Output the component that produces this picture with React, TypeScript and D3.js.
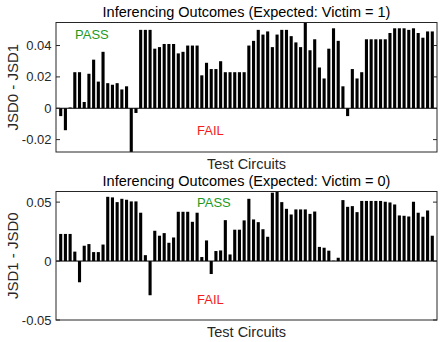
import React from 'react';
import * as d3 from 'd3';

// bar heights, one per test circuit
const victim1 = [
  -0.005, -0.014, 0.0005, 0.023, 0.023, 0.004, 0.022, 0.031, 0.017, 0.036,
  0.016, 0.015, 0.016, 0.012, 0.014, -0.03, -0.003, 0.050, 0.050, 0.050,
  0.038, 0.039, 0.041, 0.041, 0.041, 0.035, 0.036, 0.040, 0.040, 0.040,
  0.021, 0.029, 0.025, 0.025, 0.030, 0.023, 0.023, 0.023, 0.023, 0.023,
  0.040, 0.043, 0.050, 0.047, 0.049, 0.039, 0.047, 0.050, 0.050, 0.046,
  0.042, 0.039, 0.057, 0.037, 0.044, 0.026, 0.019, 0.038, 0.051, 0.043,
  0.014, -0.005, 0.025, 0.019, 0.023, 0.044, 0.044, 0.044, 0.044, 0.044,
  0.048, 0.051, 0.051, 0.051, 0.050, 0.051, 0.048, 0.045, 0.049, 0.049,
];

const victim0 = [
  0.023, 0.023, 0.023, 0.008, -0.018, 0.013, 0.0144, 0.0076, 0.0076, 0.014,
  0.0545, 0.054, 0.050, 0.0528, 0.052, 0.0506, 0.0506, 0.041, 0.005, -0.029,
  0.0257, 0.0215, 0.0237, 0.0155, 0.020, 0.0418, 0.0418, 0.0418, 0.0333, 0.041,
  0.0034, 0.0175, -0.011, 0.0085, 0.009, 0.0347, 0.0056, 0.0266, 0.0266, 0.0345,
  0.0528, 0.0353, 0.033, 0.027, 0.0206, 0.058, 0.06, 0.050, 0.0443, 0.0395,
  0.0438, 0.0438, 0.0438, 0.040, 0.042, 0.012, 0.0113, 0.0088, 0.0003, 0.0028,
  0.0517, 0.046, 0.0466, 0.0415, 0.051, 0.051, 0.051, 0.051, 0.051, 0.0503,
  0.0497, 0.048, 0.0387, 0.0384, 0.0378, 0.0503, 0.041, 0.0376, 0.0429, 0.0215,
];

const ticks1 = [-0.02, 0, 0.02, 0.04];
const ticks0 = [-0.05, 0, 0.05];

const W = 443;
const H = 342;
const left = 56;
const right = 437;
const font = 'Liberation Sans, Arial, Helvetica, sans-serif';
const axisColor = '#262626';

function Panel({ values, ticks, domain, top, bottom, title, ylabel, id, passY, failY, passX }) {
  const x = d3.scaleLinear().domain([0, values.length + 1]).range([left, right]);
  const y = d3.scaleLinear().domain(domain).range([bottom, top]);
  const bw = (x(1) - x(0)) * 0.66;
  const fmt = (t) => (t === 0 ? '0' : String(t));

  return (
    <g>
      <defs>
        <clipPath id={id}>
          <rect x={left} y={top} width={right - left} height={bottom - top} />
        </clipPath>
      </defs>
      <g clipPath={`url(#${id})`}>
        {values.map((v, i) => (
          <rect
            key={i}
            x={x(i + 1) - bw / 2}
            y={y(Math.max(0, v))}
            width={bw}
            height={Math.abs(y(v) - y(0))}
            fill="#000"
          />
        ))}
      </g>
      <line x1={left} x2={right} y1={y(0)} y2={y(0)} stroke="#000" strokeWidth={1} />
      <rect x={left} y={top} width={right - left} height={bottom - top}
        fill="none" stroke={axisColor} strokeWidth={1} />
      {ticks.map(t => (
        <g key={t}>
          <line x1={left} x2={left + 4} y1={y(t)} y2={y(t)} stroke={axisColor} />
          <line x1={right - 4} x2={right} y1={y(t)} y2={y(t)} stroke={axisColor} />
          <text x={left - 4.5} y={y(t)} dy="0.35em" textAnchor="end"
            fontSize={13} fill={axisColor}>{fmt(t)}</text>
        </g>
      ))}
      <text x={(left + right) / 2} y={top - 6} textAnchor="middle"
        fontSize={14.5} fill="#000">{title}</text>
      <text x={(left + right) / 2} y={bottom + 16.5} textAnchor="middle"
        fontSize={14.5} fill={axisColor}>Test Circuits</text>
      <text transform={`translate(18,${(top + bottom) / 2}) rotate(-90)`}
        textAnchor="middle" fontSize={15} fill={axisColor}>{ylabel}</text>
      <text x={passX} y={passY} fontSize={13} fill="#1f9a1f">PASS</text>
      <text x={197} y={failY} fontSize={13} fill="#f51c1c">FAIL</text>
    </g>
  );
}

export default function App() {
  return (
    <svg width={W} height={H} fontFamily={font}
      style={{ position: 'absolute', left: 0, top: 0, background: '#fff' }}>
      <rect width={W} height={H} fill="#fff" />
      <Panel values={victim1} ticks={ticks1} domain={[-0.0279, 0.0547]}
        top={22.5} bottom={152} id="c1"
        title="Inferencing Outcomes (Expected: Victim = 1)" ylabel="JSD0 - JSD1"
        passX={75} passY={39} failY={135} />
      <Panel values={victim0} ticks={ticks0} domain={[-0.05, 0.059]}
        top={191.5} bottom={320} id="c0"
        title="Inferencing Outcomes (Expected: Victim = 0)" ylabel="JSD1 - JSD0"
        passX={197} passY={206.5} failY={303.5} />
    </svg>
  );
}
